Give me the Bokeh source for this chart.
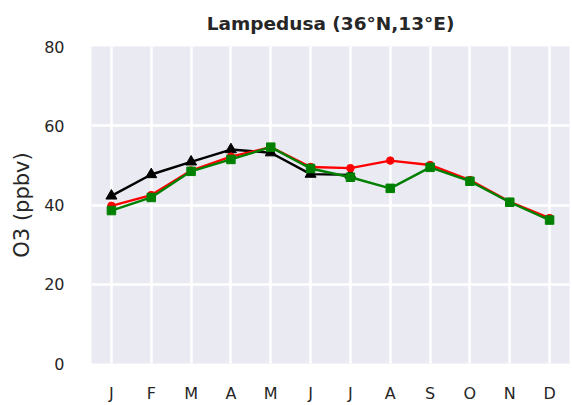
from bokeh.plotting import figure
from bokeh.embed import file_html
from bokeh.resources import INLINE
from bokeh.models import FixedTicker

months = ["J", "F", "M", "A", "M", "J", "J", "A", "S", "O", "N", "D"]
month_idx = list(range(1, 13))

black_vals = [42.3, 47.7, 50.9, 54.0, 53.2, 47.8, 47.6]
red_vals = [39.8, 42.5, 48.7, 52.2, 54.6, 49.6, 49.3, 51.2, 50.1, 46.3, 40.8, 36.7]
green_vals = [38.6, 41.9, 48.5, 51.5, 54.6, 49.2, 47.0, 44.2, 49.5, 46.0, 40.7, 36.2]
y_ticks = [0, 20, 40, 60, 80]

p = figure(width=572, height=405, x_range=(0.5, 12.5), y_range=(0, 80),
           output_backend="svg", toolbar_location=None,
           min_border_left=91, min_border_right=3, min_border_top=46, min_border_bottom=39)

p.background_fill_color = "#EAEAF2"
p.border_fill_color = "white"
p.outline_line_color = None

p.title.text = "Lampedusa (36°N,13°E)"
p.title.text_font = "DejaVu Sans"
p.title.text_font_size = "18.5px"
p.title.text_font_style = "bold"
p.title.text_color = "#262626"
p.title.align = "center"
p.title.vertical_align = "top"
p.title.standoff = 22

for ax in (p.xaxis, p.yaxis):
    ax.axis_line_color = None
    ax.major_tick_line_color = None
    ax.minor_tick_line_color = None
    ax.major_tick_out = 0
    ax.major_tick_in = 0
    ax.minor_tick_out = 0
    ax.minor_tick_in = 0
    ax.major_label_text_font = "DejaVu Sans"
    ax.major_label_text_font_size = "16px"
    ax.major_label_text_color = "#262626"

p.xaxis.ticker = FixedTicker(ticks=month_idx)
p.xaxis.major_label_overrides = {i: m for i, m in zip(month_idx, months)}
p.xaxis.major_label_standoff = 20
p.yaxis.ticker = FixedTicker(ticks=y_ticks)
p.yaxis.major_label_standoff = 27
p.yaxis.axis_label = "O3 (ppbv)"
p.yaxis.axis_label_text_font = "DejaVu Sans"
p.yaxis.axis_label_text_font_size = "21px"
p.yaxis.axis_label_text_font_style = "normal"
p.yaxis.axis_label_text_color = "#262626"
p.yaxis.axis_label_standoff = 7

p.grid.grid_line_color = "white"
p.grid.grid_line_width = 2.5

bx = month_idx[:len(black_vals)]
p.line(bx, black_vals, line_color="black", line_width=2.4)
p.scatter(bx, black_vals, marker="triangle", size=11, color="black")

p.line(month_idx, red_vals, line_color="red", line_width=2.4)
p.scatter(month_idx, red_vals, marker="circle", size=7.5, color="red")

p.line(month_idx, green_vals, line_color="green", line_width=2.4)
p.scatter(month_idx, green_vals, marker="square", size=8.5, color="green")

open("out.html", "w").write(file_html(p, INLINE))
